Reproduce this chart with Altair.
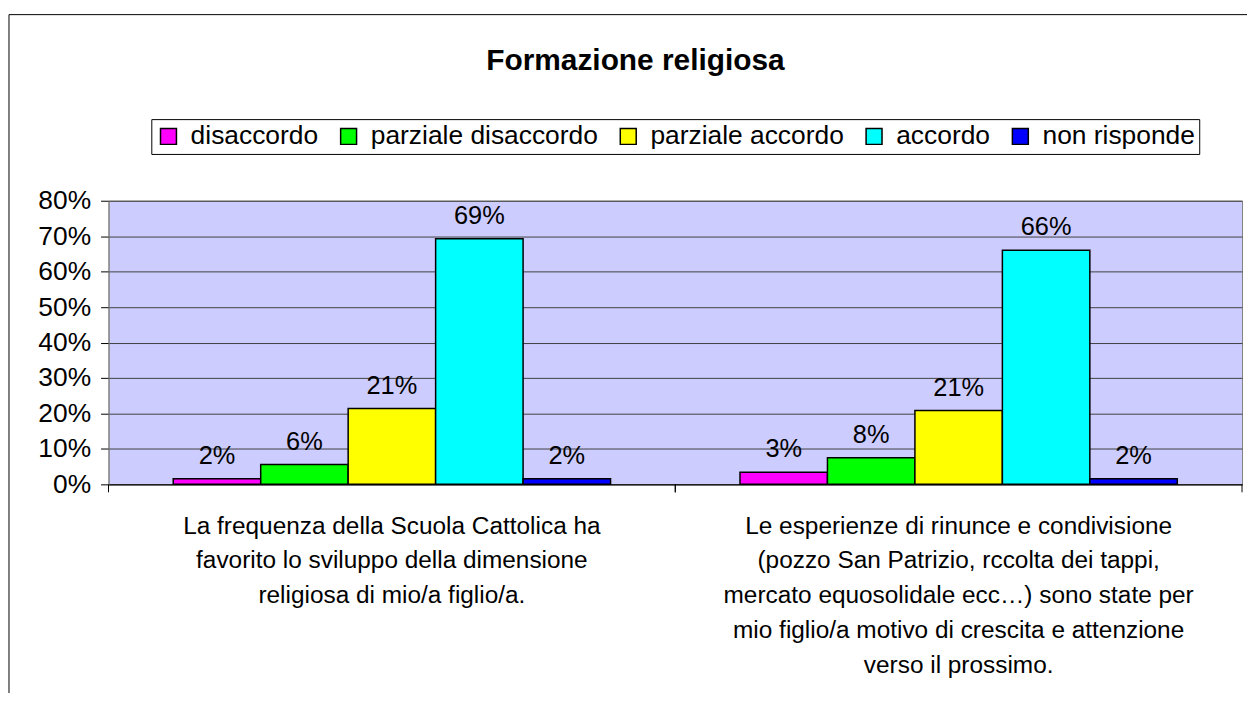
import altair as alt
import pandas as pd

title_text = "Formazione religiosa"
questions = [
    "La frequenza della Scuola Cattolica ha|favorito lo sviluppo della dimensione|religiosa di mio/a figlio/a.",
    "Le esperienze di rinunce e condivisione|(pozzo San Patrizio, rccolta dei tappi,|mercato equosolidale ecc…) sono state per|mio figlio/a motivo di crescita e attenzione|verso il prossimo.",
]
responses = ["disaccordo", "parziale disaccordo", "parziale accordo", "accordo", "non risponde"]
colors = ["#FF00FF", "#00FF00", "#FFFF00", "#00FFFF", "#0000FF"]
values_q1 = [0.016, 0.056, 0.214, 0.693, 0.016]
values_q2 = [0.034, 0.075, 0.208, 0.660, 0.016]
y_ticks = [0, 0.1, 0.2, 0.3, 0.4, 0.5, 0.6, 0.7, 0.8]

rows = []
for q, vals in zip(questions, [values_q1, values_q2]):
    for r, v in zip(responses, vals):
        rows.append({"q": q, "resp": r, "v": v})
df = pd.DataFrame(rows)

FONT = "Liberation Sans"
W, H = 1139, 285
FS = 24.5

x_axis = alt.Axis(labelExpr="split(datum.label, '|')", labelLimit=0,
                  labelFontSize=FS, labelLineHeight=35, labelPadding=30,
                  labelAngle=0, ticks=False, domainColor="black",
                  labelColor="black", labelFont=FONT, grid=False, title=None)
y_axis = alt.Axis(values=y_ticks, format=".0%", labelFontSize=26.5,
                  labelFont=FONT, labelColor="black", tickSize=8,
                  labelPadding=10, tickColor="black", domainColor="#808080",
                  gridColor="#404040", gridWidth=1, labelOverlap=False,
                  labelBound=False, title=None)
x_scale = alt.Scale(paddingInner=0, paddingOuter=0)
y_scale = alt.Scale(domain=[0, 0.8], nice=False)
xo_scale = alt.Scale(paddingOuter=0.74, paddingInner=0)

base = alt.Chart(df)

bars = base.mark_bar(stroke="black", strokeWidth=1.5).encode(
    x=alt.X("q:N", sort=questions, scale=x_scale, axis=x_axis),
    xOffset=alt.XOffset("resp:N", sort=responses, scale=xo_scale),
    y=alt.Y("v:Q", scale=y_scale, axis=y_axis),
    color=alt.Color("resp:N", sort=responses,
                    scale=alt.Scale(domain=responses, range=colors),
                    legend=alt.Legend(title=None, orient="none", legendX=43, legendY=-82,
                                      direction="horizontal", columns=5,
                                      symbolType="square", symbolSize=256,
                                      symbolStrokeColor="black", symbolStrokeWidth=1.5,
                                      labelFontSize=26.5, labelFont=FONT, labelColor="black",
                                      labelOffset=9, columnPadding=17, padding=4,
                                      labelLimit=600,
                                      strokeColor="black", fillColor="white")),
)

labels = base.mark_text(baseline="alphabetic", dy=-15, fontSize=25.5, font=FONT, color="black").encode(
    x=alt.X("q:N", sort=questions, scale=x_scale, axis=x_axis),
    xOffset=alt.XOffset("resp:N", sort=responses, scale=xo_scale),
    y=alt.Y("v:Q", scale=y_scale, axis=y_axis),
    text=alt.Text("v:Q", format=".0%"),
)

ticks_df = pd.DataFrame({"q": questions})
xticks_start = alt.Chart(ticks_df).mark_rule(color="black", strokeWidth=1).encode(
    x=alt.X("q:N", sort=questions, bandPosition=0, scale=x_scale, axis=x_axis),
    y=alt.value(H), y2=alt.value(H + 8),
)
xticks_end = alt.Chart(ticks_df).mark_rule(color="black", strokeWidth=1).encode(
    x=alt.X("q:N", sort=questions, bandPosition=1, scale=x_scale, axis=x_axis),
    y=alt.value(H), y2=alt.value(H + 8),
)

frame = alt.Chart(pd.DataFrame({"f": [0]})).mark_rect(
    fill="transparent", stroke="black", strokeWidth=1).encode(
    x=alt.value(-100), x2=alt.value(1200), y=alt.value(-187), y2=alt.value(520),
)

chart = alt.layer(frame, bars, labels, xticks_start, xticks_end).properties(
    width=W, height=H,
    autosize="none",
    padding={"left": 101, "top": 192, "right": 5, "bottom": 208},
    title=alt.TitleParams(title_text, fontSize=30, font=FONT, fontWeight="bold",
                          color="black", anchor="middle", dx=-40, offset=-62),
).configure_view(fill="#CCCCFF", stroke="#808080")

chart.save("out.html", embed_options={"renderer": "svg", "actions": False})
